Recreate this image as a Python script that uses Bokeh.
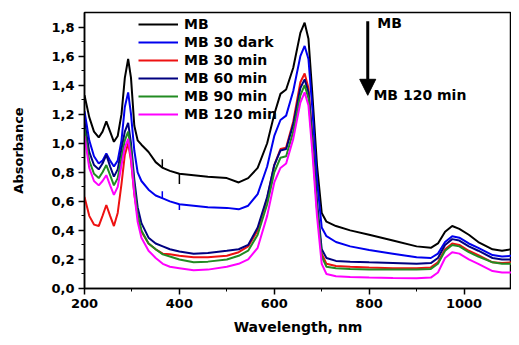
from bokeh.plotting import figure
from bokeh.models import Range1d, FixedTicker, Legend, LegendItem, Arrow, NormalHead, Label
from bokeh.embed import file_html
from bokeh.resources import INLINE

wavelength = [200, 210, 220, 230, 238, 246, 254, 262, 270, 278,
              285, 292, 298, 305, 312, 320, 335, 350, 365, 380,
              400, 430, 460, 500, 525, 545, 565, 585, 600, 613,
              625, 640, 655, 664, 672, 680, 690, 700, 710, 730,
              760, 800, 850, 900, 930, 945, 960, 975, 990, 1010,
              1030, 1060, 1080, 1100]

mb = [1.33, 1.18, 1.08, 1.04, 1.08, 1.15, 1.08, 1.01, 1.05, 1.20,
      1.45, 1.58, 1.45, 1.12, 1.02, 0.99, 0.94, 0.87, 0.83, 0.81,
      0.79, 0.78, 0.77, 0.76, 0.73, 0.76, 0.83, 1.00, 1.20, 1.34,
      1.37, 1.52, 1.76, 1.83, 1.72, 1.35, 0.85, 0.52, 0.46, 0.43,
      0.40, 0.37, 0.33, 0.29, 0.28, 0.31, 0.39, 0.43, 0.41, 0.37,
      0.32, 0.27, 0.26, 0.27]

mb_30_dark = [1.22, 1.02, 0.91, 0.86, 0.88, 0.93, 0.88, 0.84, 0.88, 1.02,
              1.25, 1.35, 1.20, 0.95, 0.80, 0.74, 0.68, 0.64, 0.62, 0.60,
              0.58, 0.57, 0.56, 0.555, 0.545, 0.57, 0.65, 0.84, 1.05, 1.16,
              1.19, 1.36, 1.60, 1.67, 1.58, 1.25, 0.75, 0.42, 0.36, 0.32,
              0.29, 0.265, 0.24, 0.215, 0.21, 0.24, 0.32, 0.36, 0.35, 0.31,
              0.28, 0.23, 0.22, 0.225]

mb_30_min = [0.63, 0.50, 0.44, 0.43, 0.50, 0.575, 0.50, 0.43, 0.52, 0.72,
             0.92, 1.00, 0.88, 0.65, 0.50, 0.39, 0.31, 0.27, 0.24, 0.235,
             0.225, 0.215, 0.215, 0.225, 0.25, 0.29, 0.40, 0.62, 0.85, 0.96,
             0.97, 1.15, 1.42, 1.48, 1.38, 1.05, 0.55, 0.24, 0.17, 0.155,
             0.15, 0.145, 0.14, 0.14, 0.145, 0.18, 0.27, 0.31, 0.30, 0.26,
             0.23, 0.18, 0.175, 0.18]

mb_60_min = [1.15, 0.94, 0.85, 0.82, 0.86, 0.92, 0.84, 0.77, 0.82, 0.96,
             1.08, 1.14, 1.00, 0.75, 0.56, 0.45, 0.35, 0.31, 0.29, 0.27,
             0.255, 0.24, 0.245, 0.26, 0.27, 0.30, 0.42, 0.63, 0.85, 0.95,
             0.96, 1.13, 1.38, 1.44, 1.35, 1.05, 0.60, 0.27, 0.21, 0.19,
             0.185, 0.18, 0.175, 0.17, 0.175, 0.21, 0.30, 0.34, 0.33, 0.29,
             0.26, 0.21, 0.20, 0.20]

mb_90_min = [1.10, 0.88, 0.79, 0.76, 0.80, 0.85, 0.78, 0.71, 0.76, 0.90,
             1.02, 1.08, 0.95, 0.70, 0.51, 0.40, 0.31, 0.27, 0.235, 0.22,
             0.20, 0.18, 0.185, 0.20, 0.225, 0.26, 0.37, 0.58, 0.80, 0.90,
             0.91, 1.08, 1.33, 1.40, 1.31, 1.00, 0.55, 0.22, 0.15, 0.14,
             0.135, 0.13, 0.13, 0.13, 0.135, 0.17, 0.26, 0.30, 0.29, 0.25,
             0.22, 0.18, 0.17, 0.17]

mb_120_min = [1.05, 0.83, 0.74, 0.71, 0.74, 0.78, 0.71, 0.645, 0.70, 0.85,
              0.97, 1.03, 0.90, 0.65, 0.46, 0.35, 0.26, 0.21, 0.17, 0.15,
              0.14, 0.125, 0.13, 0.15, 0.17, 0.20, 0.28, 0.50, 0.73, 0.83,
              0.86, 1.03, 1.28, 1.35, 1.26, 0.95, 0.50, 0.17, 0.10, 0.085,
              0.08, 0.075, 0.072, 0.07, 0.075, 0.11, 0.21, 0.25, 0.24, 0.20,
              0.17, 0.12, 0.11, 0.11]

# small instrument spikes (wavelength, base, tip)
spike_wl = [364, 400]
mb_spike_base = [0.83, 0.79]
mb_spike_tip = [0.89, 0.72]
dark_spike_base = [0.62, 0.58]
dark_spike_tip = [0.67, 0.54]

series_names = ["MB", "MB 30 dark", "MB 30 min", "MB 60 min", "MB 90 min", "MB 120 min"]
series_values = [mb, mb_30_dark, mb_30_min, mb_60_min, mb_90_min, mb_120_min]
series_colors = ["#000000", "#0000ee", "#ee1111", "#000080", "#228b22", "#ff00ff"]

x_ticks = [200, 400, 600, 800, 1000]
x_minor = [300, 500, 700, 900, 1100]
y_ticks = [0.0, 0.2, 0.4, 0.6, 0.8, 1.0, 1.2, 1.4, 1.6, 1.8]
y_minor = [0.1, 0.3, 0.5, 0.7, 0.9, 1.1, 1.3, 1.5, 1.7]
y_tick_labels = ["0,0", "0,2", "0,4", "0,6", "0,8", "1,0", "1,2", "1,4", "1,6", "1,8"]

arrow_x = 797
arrow_top = 1.84
arrow_bottom = 1.33
label_top = "MB"
label_bottom = "MB 120 min"

FONT = "DejaVu Sans"

p = figure(width=511, height=337, output_backend="svg", toolbar_location=None,
           x_range=Range1d(200, 1100), y_range=Range1d(0, 1.9),
           min_border_left=84, min_border_right=0, min_border_top=12, min_border_bottom=10)
p.xgrid.visible = False
p.ygrid.visible = False
p.outline_line_color = "black"
p.outline_line_width = 1.5

renderers = []
for name, vals, col in zip(series_names, series_values, series_colors):
    r = p.line(wavelength, vals, line_color=col, line_width=2)
    renderers.append(r)

p.segment(x0=spike_wl, y0=mb_spike_base, x1=spike_wl, y1=mb_spike_tip, line_color="#000000", line_width=1.5)
p.segment(x0=spike_wl, y0=dark_spike_base, x1=spike_wl, y1=dark_spike_tip, line_color="#0000ee", line_width=1.5)

legend = Legend(items=[LegendItem(label=n, renderers=[r]) for n, r in zip(series_names, renderers)],
                location=(54, 166), glyph_width=40, glyph_height=16, label_height=16, spacing=2,
                padding=0, margin=0, label_standoff=6, border_line_color=None,
                background_fill_alpha=0, label_text_color="black",
                label_text_font=FONT, label_text_font_style="bold", label_text_font_size="14px")
p.add_layout(legend)

p.add_layout(Arrow(end=NormalHead(size=16, fill_color="black", line_color="black"),
                   x_start=arrow_x, y_start=arrow_top, x_end=arrow_x, y_end=arrow_bottom,
                   line_width=3, line_color="black"))
p.add_layout(Label(x=arrow_x + 20, y=1.83, text=label_top, text_baseline="middle", text_color="black",
                   text_font=FONT, text_font_style="bold", text_font_size="14px"))
p.add_layout(Label(x=arrow_x + 12, y=1.33, text=label_bottom, text_baseline="middle", text_color="black",
                   text_font=FONT, text_font_style="bold", text_font_size="14px"))

p.xaxis.ticker = FixedTicker(ticks=x_ticks, minor_ticks=x_minor)
p.yaxis.ticker = FixedTicker(ticks=y_ticks, minor_ticks=y_minor)
p.yaxis.major_label_overrides = {t: s for t, s in zip(y_ticks, y_tick_labels)}
p.xaxis.axis_label = "Wavelength, nm"
p.yaxis.axis_label = "Absorbance"
for ax in (p.xaxis[0], p.yaxis[0]):
    ax.axis_line_width = 1.5
    ax.axis_line_color = "black"
    ax.major_tick_line_color = "black"
    ax.minor_tick_line_color = "black"
    ax.major_tick_in = 0
    ax.major_tick_out = 6
    ax.minor_tick_in = 0
    ax.minor_tick_out = 3
    ax.major_tick_line_width = 1.5
    ax.major_label_text_font = FONT
    ax.major_label_text_font_style = "bold"
    ax.major_label_text_font_size = "13px"
    ax.major_label_text_color = "black"
    ax.axis_label_text_font = FONT
    ax.axis_label_text_font_style = "bold"
    ax.axis_label_text_color = "black"
    ax.major_label_standoff = 4
p.xaxis.axis_label_text_font_size = "14px"
p.yaxis.axis_label_text_font_size = "13px"
p.xaxis.axis_label_standoff = 8
p.yaxis.axis_label_standoff = 22

open("out.html", "w").write(file_html(p, INLINE))
